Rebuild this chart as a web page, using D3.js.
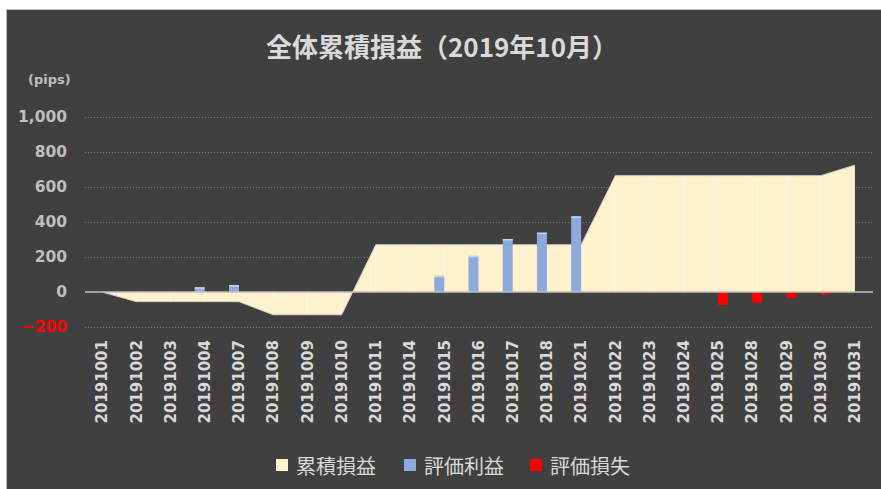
<!DOCTYPE html>
<html>
<head>
<meta charset="utf-8">
<script src="https://cdn.jsdelivr.net/npm/d3@7"></script>
<style>
	body { margin:0; padding:0; background:#ffffff; }
	#vizcontainer { width:881px; height:489px; }
</style>
</head>
<body>
<div id="vizcontainer"></div>
<script>

var dates = ["20191001","20191002","20191003","20191004","20191007","20191008","20191009","20191010","20191011","20191014","20191015","20191016","20191017","20191018","20191021","20191022","20191023","20191024","20191025","20191028","20191029","20191030","20191031"];
var cumulative = [0,-55,-55,-55,-55,-130,-130,-130,270,270,270,270,270,270,270,665,665,665,665,665,665,665,725];
var gain = [0,0,0,27,40,0,0,0,0,0,93,207,303,339,432,0,0,0,0,0,0,0,0];
var loss = [0,0,0,0,0,0,0,0,0,0,0,0,0,0,0,0,0,0,-74,-61,-33,-13,0];
var yticks = [-200,0,200,400,600,800,1000];

var legendItems = [
	{name:"累積損益", color:"#FFF2CC"},
	{name:"評価利益", color:"#8EA9DB"},
	{name:"評価損失", color:"#FF0000"}
];

var wwidth = 881;
var hheight = 489;

var svg = d3.select("#vizcontainer").append("svg")
	.attr("width", wwidth)
	.attr("height", hheight);

// frame
svg.append("rect").attr("x",0).attr("y",0).attr("width",wwidth).attr("height",hheight).attr("fill","#ffffff");
svg.append("rect").attr("x",6.5).attr("y",9.5).attr("width",wwidth).attr("height",hheight)
	.attr("fill","#404040").attr("stroke","#bfbfbf").attr("stroke-width",1);

var x = d3.scaleBand().domain(dates).range([85,872]).padding(0);
var y = d3.scaleLinear().domain([-200,1000]).range([327,117]);

function cx(i){ return x(dates[i]) + x.bandwidth()/2; }

// title
svg.append("text")
	.attr("x",442).attr("y",45)
	.attr("text-anchor","middle").attr("dominant-baseline","central")
	.attr("font-family","'Noto Sans CJK JP'").attr("font-weight","bold")
	.attr("font-size","26px").attr("fill","#d9d9d9")
	.text("全体累積損益（2019年10月）");

svg.append("text")
	.attr("x",28).attr("y",79)
	.attr("dominant-baseline","central")
	.attr("font-family","'DejaVu Sans'").attr("font-weight","bold")
	.attr("font-size","13px").attr("fill","#bfbfbf")
	.text("(pips)");

// gridlines
svg.append("g").selectAll(".grid")
	.data(yticks.filter(function(d){ return d!=0; }))
	.enter().append("line")
	.attr("class","grid")
	.attr("x1",85).attr("x2",872)
	.attr("y1",function(d){ return Math.round(y(d))+0.5; })
	.attr("y2",function(d){ return Math.round(y(d))+0.5; })
	.attr("stroke","#7a7a7a").attr("stroke-width",1)
	.attr("stroke-dasharray","1,2");

// y axis
var yAxis = d3.axisLeft(y).tickValues(yticks).tickSize(0).tickPadding(0)
	.tickFormat(d3.format(","));
var ya = svg.append("g").attr("transform","translate(67,0)").call(yAxis);
ya.select(".domain").remove();
ya.selectAll("text")
	.attr("font-family","'DejaVu Sans'").attr("font-weight","bold")
	.attr("font-size","15.5px")
	.attr("fill",function(d){ return d<0 ? "#ff0000" : "#bfbfbf"; });

// area
var idx = d3.range(dates.length);
var area = d3.area()
	.x(function(i){ return cx(i); })
	.y0(y(0))
	.y1(function(i){ return y(cumulative[i]); });
svg.append("path").datum(idx)
	.attr("d",area)
	.attr("fill","#FFF2CC");

// faint drop lines inside the area
svg.append("g").selectAll(".drop")
	.data(idx.slice(1,dates.length-1))
	.enter().append("line")
	.attr("x1",function(i){ return cx(i); }).attr("x2",function(i){ return cx(i); })
	.attr("y1",y(0)).attr("y2",function(i){ return y(cumulative[i]); })
	.attr("stroke","#ffffff").attr("stroke-opacity",0.6).attr("stroke-width",1);

var topline = d3.line()
	.x(function(i){ return cx(i); })
	.y(function(i){ return y(cumulative[i]); });
svg.append("path").datum(idx)
	.attr("d",topline)
	.attr("fill","none").attr("stroke","#d0d0d0").attr("stroke-width",1);

// bars
var bw = 10;
svg.append("g").selectAll(".gain")
	.data(idx.filter(function(i){ return gain[i]!=0; }))
	.enter().append("rect")
	.attr("x",function(i){ return cx(i)-bw; })
	.attr("y",function(i){ return y(gain[i]); })
	.attr("width",bw)
	.attr("height",function(i){ return y(0)-y(gain[i]); })
	.attr("fill","#8EA9DB");
svg.append("g").selectAll(".gaintop")
	.data(idx.filter(function(i){ return gain[i]!=0; }))
	.enter().append("rect")
	.attr("x",function(i){ return cx(i)-bw; })
	.attr("y",function(i){ return y(gain[i]); })
	.attr("width",bw).attr("height",1.5)
	.attr("fill","#c9d6ef");

svg.append("g").selectAll(".loss")
	.data(idx.filter(function(i){ return loss[i]!=0; }))
	.enter().append("rect")
	.attr("x",function(i){ return cx(i); })
	.attr("y",y(0))
	.attr("width",bw)
	.attr("height",function(i){ return y(loss[i])-y(0); })
	.attr("fill","#FF0000");

// zero line
svg.append("line")
	.attr("x1",85).attr("x2",873)
	.attr("y1",y(0)).attr("y2",y(0))
	.attr("stroke","#bfbfbf").attr("stroke-width",1.5);

// x labels
svg.append("g").selectAll(".xlab")
	.data(dates)
	.enter().append("text")
	.attr("class","xlab")
	.attr("transform",function(d){ return "translate(" + (x(d)+x.bandwidth()/2) + ",340) rotate(-90)"; })
	.attr("text-anchor","end").attr("dy","0.35em")
	.attr("font-family","'DejaVu Sans'").attr("font-weight","bold")
	.attr("font-size","15px").attr("fill","#d9d9d9")
	.text(function(d){ return d; });

// legend
var legendX = [276,404,530];
var lg = svg.append("g").selectAll(".leg")
	.data(legendItems)
	.enter().append("g")
	.attr("transform",function(d,i){ return "translate(" + legendX[i] + ",465)"; });
lg.append("rect")
	.attr("x",0).attr("y",-6).attr("width",12).attr("height",12)
	.attr("fill",function(d){ return d.color; });
lg.append("text")
	.attr("x",20).attr("y",0)
	.attr("dominant-baseline","central")
	.attr("font-family","'Noto Sans CJK JP'")
	.attr("font-size","20px").attr("fill","#d9d9d9")
	.text(function(d){ return d.name; });

</script>
</body>
</html>
